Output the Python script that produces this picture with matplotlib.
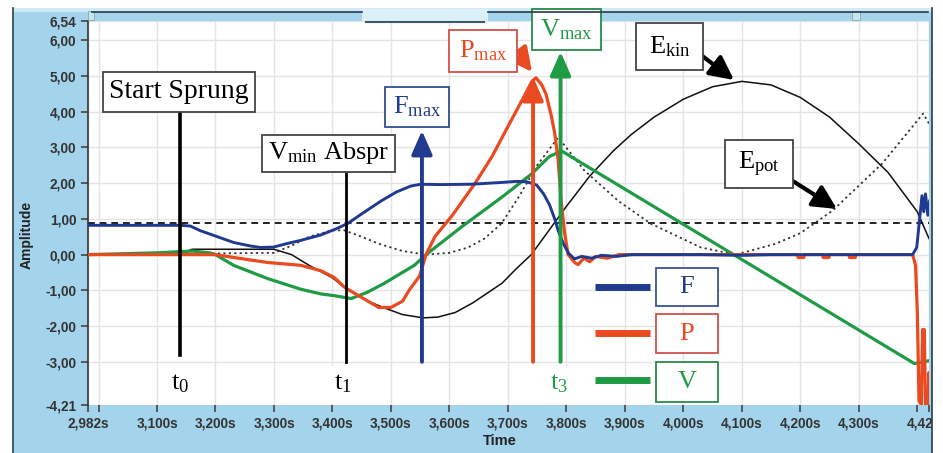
import matplotlib
matplotlib.use("Agg")
import matplotlib.pyplot as plt
from matplotlib.patches import Rectangle
from matplotlib.lines import Line2D
from matplotlib.transforms import Affine2D, ScaledTranslation

plt.rcParams['mathtext.fontset'] = 'custom'
plt.rcParams['mathtext.rm'] = 'Liberation Serif'
plt.rcParams['mathtext.it'] = 'Liberation Serif:italic'

# ---------------- data ----------------
t_F = [2.982, 3.140, 3.157, 3.174, 3.200, 3.231, 3.260, 3.277, 3.299, 3.320, 3.346, 3.380, 3.406,
       3.426, 3.449, 3.483, 3.509, 3.534, 3.551, 3.586, 3.637, 3.689, 3.714, 3.732, 3.749, 3.761,
       3.771, 3.780, 3.786, 3.795, 3.804, 3.814, 3.826, 3.843, 3.860, 3.886, 3.912, 4.032, 4.100,
       4.150, 4.203, 4.300, 4.392, 4.399, 4.404, 4.408, 4.411, 4.414, 4.418, 4.421]
F = [0.82, 0.82, 0.80, 0.67, 0.52, 0.34, 0.24, 0.20, 0.21, 0.30, 0.40, 0.55, 0.72,
     0.87, 1.13, 1.50, 1.75, 1.92, 1.97, 1.96, 1.97, 2.02, 2.05, 2.04, 1.95, 1.70,
     1.40, 1.00, 0.67, 0.30, 0.03, -0.12, -0.05, -0.10, -0.02, -0.05, 0.0, 0.0, -0.02,
     0.0, 0.0, 0.0, 0.0, 0.2, 1.0, 1.65, 1.2, 1.7, 1.1, 1.5]

t_P = [2.982, 3.200, 3.231, 3.260, 3.289, 3.346, 3.380, 3.403, 3.421, 3.450, 3.479, 3.500,
       3.520, 3.531, 3.549, 3.560, 3.575, 3.605, 3.644, 3.673, 3.694, 3.707, 3.730, 3.741,
       3.748, 3.758, 3.765, 3.774, 3.780, 3.786, 3.791, 3.797, 3.803, 3.814, 3.820, 3.830,
       3.840, 3.850, 3.870, 3.890,
       4.195, 4.196, 4.206, 4.207, 4.238, 4.239, 4.249, 4.250, 4.283, 4.284, 4.294, 4.295,
       4.392, 4.397, 4.400, 4.403, 4.407, 4.409, 4.412, 4.414, 4.418, 4.420, 4.421]
P = [0.0, 0.0, -0.08, -0.15, -0.22, -0.30, -0.45, -0.64, -0.92, -1.20, -1.48, -1.48,
     -1.30, -1.00, -0.60, 0.0, 0.50, 1.10, 2.00, 2.75, 3.40, 3.80, 4.50, 4.85,
     4.95, 4.75, 4.50, 3.90, 3.40, 2.63, 1.50, 0.60, 0.0, -0.22, -0.28, -0.10,
     -0.20, -0.05, -0.10, 0.0,
     0.0, -0.08, -0.08, 0.0, 0.0, -0.08, -0.08, 0.0, 0.0, -0.08, -0.08, 0.0,
     0.0, -0.3, -1.6, -4.1, -4.2, -2.1, -2.1, -4.2, -4.2, -3.3, -4.2]

t_V = [2.982, 3.100, 3.160, 3.190, 3.200, 3.231, 3.289, 3.346, 3.380, 3.403, 3.432, 3.460,
       3.489, 3.540, 3.560, 3.621, 3.689, 3.740, 3.771, 3.792, 4.395, 4.420]
V = [0.0, 0.05, 0.10, 0.05, 0.0, -0.30, -0.67, -0.97, -1.10, -1.15, -1.23, -1.05,
     -0.80, -0.30, 0.0, 0.78, 1.60, 2.25, 2.75, 2.90, -3.05, -2.97]

t_Ekin = [2.982, 3.140, 3.160, 3.300, 3.330, 3.360, 3.400, 3.423, 3.460, 3.490, 3.520, 3.555,
          3.580, 3.610, 3.640, 3.690, 3.714, 3.740, 3.760, 3.780, 3.800, 3.840, 3.880, 3.910,
          3.950, 4.000, 4.050, 4.100, 4.150, 4.200, 4.250, 4.300, 4.350, 4.400, 4.420]
Ekin = [0.0, 0.02, 0.15, 0.15, 0.0, -0.30, -0.65, -0.95, -1.30, -1.50, -1.68, -1.77,
        -1.75, -1.62, -1.35, -0.80, -0.40, 0.0, 0.45, 0.90, 1.35, 2.20, 2.90, 3.35,
        3.85, 4.35, 4.70, 4.85, 4.75, 4.40, 3.85, 3.10, 2.30, 1.20, 0.45]

t_Epot = [2.982, 3.300, 3.330, 3.360, 3.400, 3.420, 3.450, 3.480, 3.520, 3.560, 3.600, 3.632,
          3.660, 3.689, 3.718, 3.750, 3.786, 3.831, 3.889, 3.944, 4.030, 4.090, 4.157, 4.200,
          4.255, 4.340, 4.410, 4.420]
Epot = [0.0, 0.05, 0.25, 0.50, 0.68, 0.68, 0.50, 0.30, 0.10, 0.0, 0.05, 0.20,
        0.45, 0.87, 1.60, 2.50, 3.28, 2.35, 1.50, 0.87, 0.20, 0.0, 0.30, 0.60,
        1.23, 2.55, 3.95, 3.67]

threshold = 0.88

event_times = {"t0": 3.140, "t1": 3.423, "Fmax": 3.553, "Pmax": 3.743, "Vmax": 3.790}

y_ticks = [-4.21, -3.0, -2.0, -1.0, 0.0, 1.0, 2.0, 3.0, 4.0, 5.0, 6.0, 6.54]
y_labels = ["-4,21", "-3,00", "-2,00", "-1,00", "0,00", "1,00", "2,00", "3,00", "4,00",
            "5,00", "6,00", "6,54"]
x_ticks = [2.982, 3.0, 3.1, 3.2, 3.3, 3.4, 3.5, 3.6, 3.7, 3.8, 3.9, 4.0, 4.1, 4.2, 4.3, 4.4, 4.42]
x_labels = ["2,982s", "", "3,100s", "3,200s", "3,300s", "3,400s", "3,500s", "3,600s",
            "3,700s", "3,800s", "3,900s", "4,000s", "4,100s", "4,200s", "4,300s", "", "4,42"]

# ---------------- style ----------------
C_F = '#1f3a8f'
C_P = '#ea4a1f'
C_V = '#1f9a45'
BG = '#a4d4ec'
W, H = 943, 453

fig = plt.figure(figsize=(W / 100, H / 100), dpi=100, facecolor='white')
PX = Affine2D().scale(1 / W, -1 / H).translate(0, 1) + fig.transFigure

# background frame
fig.patches.append(Rectangle((14, 8), 918, 445, transform=PX, fc=BG, ec='none', zorder=-5))
fig.patches.append(Rectangle((14, 8), 918, 4, transform=PX, fc='#cfe9f6', ec='none', zorder=-4))
fig.lines.append(Line2D([13, 13], [8, 453], transform=PX, color='#2a3a4a', lw=1.2))
fig.lines.append(Line2D([932, 932], [8, 453], transform=PX, color='#2a3a4a', lw=1.2, zorder=20))
fig.lines.append(Line2D([92, 362], [12, 12], transform=PX, color='#2a3a4a', lw=1.2))
fig.lines.append(Line2D([488, 928], [12, 12], transform=PX, color='#2a3a4a', lw=1.2))
fig.patches.append(Rectangle((362, 9), 126, 13, transform=PX, fc='#dcf0f8', ec='none', zorder=-3))
fig.lines.append(Line2D([366, 484], [22, 22], transform=PX, color='#3a5a6a', lw=1.5))
fig.patches.append(Rectangle((852, 11), 8, 9, transform=PX, fc='#c8e4f0', ec='#8aa', lw=0.6))
fig.patches.append(Rectangle((88, 11), 6, 9, transform=PX, fc='#c8e4f0', ec='#8aa', lw=0.6))
fig.patches.append(Rectangle((933, 0), 10, 453, transform=PX, fc='white', ec='none', zorder=30))

ax = fig.add_axes([88 / W, 1 - 405 / H, (929 - 88) / W, (405 - 21) / H])
ax.set_facecolor('white')
ax.set_xlim(2.982, 4.42)
ax.set_ylim(-4.21, 6.54)
for s in ['top', 'right', 'bottom']:
    ax.spines[s].set_visible(False)
ax.spines['left'].set_color('#333333')
ax.spines['left'].set_linewidth(1.2)
ax.set_yticks(y_ticks)
ax.set_yticklabels(y_labels)
ax.set_xticks(x_ticks)
ax.set_xticklabels(x_labels)
ax.tick_params(axis='both', direction='out', length=5, width=1.2, color='#444444',
               labelcolor='#333333', labelsize=9.8)
for lab in ax.get_xticklabels() + ax.get_yticklabels():
    lab.set_fontweight('bold')
    lab.set_fontfamily('Liberation Sans')
last = ax.get_xticklabels()[-1]
last.set_transform(last.get_transform() + ScaledTranslation(-9 / 100, 0, fig.dpi_scale_trans))
ax.grid(True, color='#e4e4e4', lw=1.0)
ax.set_axisbelow(True)

fig.text(27 / W, 1 - 235 / H, "Amplitude", rotation=90, ha='center', va='center',
         fontsize=10, fontweight='bold', family='Liberation Sans', color='#222222')
fig.text(500 / W, 1 - 441 / H, "Time", ha='center', va='center',
         fontsize=10.5, fontweight='bold', family='Liberation Sans', color='#222222')

# curves
ax.axhline(threshold, color='#222222', lw=1.4, ls=(0, (3.5, 2.5)), zorder=2)
ax.plot(t_Epot, Epot, color='#333333', lw=1.3, ls=(0, (1.2, 1.8)), zorder=2)
ax.plot(t_Ekin, Ekin, color='#111111', lw=1.1, zorder=2)
ax.plot(t_V, V, color=C_V, lw=2.3, zorder=3)
ax.plot(t_P, P, color=C_P, lw=2.3, zorder=4)
ax.plot(t_F, F, color=C_F, lw=2.1, zorder=5)

# event markers
ax.plot([event_times["t0"]] * 2, [-2.8, 3.98], color='black', lw=2.6, zorder=6)
ax.plot([event_times["t1"]] * 2, [-3.0, 2.3], color='black', lw=2.0, zorder=6)


def varrow(x, y0, y1, c, lw):
    ax.annotate('', xy=(x, y1), xytext=(x, y0),
                arrowprops=dict(arrowstyle='-|>,head_length=0.8,head_width=0.35', color=c, lw=lw,
                                shrinkA=0, shrinkB=0, mutation_scale=18), zorder=6,
                annotation_clip=False)


varrow(event_times["Fmax"], -3.0, 3.47, C_F, 2.8)
varrow(event_times["Pmax"], -3.0, 4.98, C_P, 2.8)
varrow(event_times["Vmax"], -3.0, 5.68, C_V, 2.8)


def pxarrow(x0, y0, x1, y1, c):
    ax.annotate('', xy=(x1, y1), xycoords=PX, xytext=(x0, y0), textcoords=PX,
                arrowprops=dict(arrowstyle='-|>,head_length=0.8,head_width=0.4', color=c, lw=3.0,
                                shrinkA=0, shrinkB=0, mutation_scale=18), zorder=8,
                annotation_clip=False)


pxarrow(510, 43, 532, 72, C_P)
pxarrow(697, 52, 734, 80, 'black')
pxarrow(788, 178, 837, 209, 'black')

SERIF = 'Liberation Serif'


def box(x0, y0, x1, y1, text, c, ec=None, fs=20, dy=0):
    ax.add_patch(Rectangle((x0, y0), x1 - x0, y1 - y0, transform=PX, fc='white',
                           ec=ec or c, lw=1.3, zorder=9, clip_on=False))
    ax.text((x0 + x1) / 2, (y0 + y1) / 2 + dy, text, transform=PX, ha='center', va='center',
            color=c, fontsize=fs, family=SERIF, zorder=10, clip_on=False)


box(103, 72, 255, 112, "Start Sprung", 'black', '#444444')
box(262, 135, 395, 172, r"V$_{\mathrm{min}}$ Abspr", 'black', '#444444', fs=19)
box(385, 87, 449, 127, r"F$_{\mathrm{max}}$", C_F, '#2f4f8f', fs=19)
box(449, 30, 517, 72, r"P$_{\mathrm{max}}$", C_P, '#d0504a', fs=19)
box(532, 9, 601, 50, r"V$_{\mathrm{max}}$", C_V, '#2a8a4a', fs=19)
box(636, 23, 703, 70, r"E$_{\mathrm{kin}}$", 'black', '#444444', fs=19)
box(725, 140, 793, 188, r"E$_{\mathrm{pot}}$", 'black', '#444444', fs=19)

# legend
for (y, c, name, ec, yb0, yb1) in [(287, C_F, "F", '#3a5590', 268, 306),
                                    (333, C_P, "P", '#d0504a', 314, 353),
                                    (380, C_V, "V", '#2a8a4a', 362, 402)]:
    ax.add_line(Line2D([595, 650], [y, y], transform=PX, color=c, lw=5, zorder=9,
                       solid_capstyle='butt'))
    box(656, yb0, 718, yb1, name, c, ec, fs=19)

# t labels
for (x, txt, c) in [(180, r"t$_0$", 'black'), (343, r"t$_1$", 'black'), (559, r"t$_3$", C_V)]:
    ax.add_patch(Rectangle((x - 15, 366), 30, 38, transform=PX, fc='white', ec='none', zorder=9,
                           clip_on=False))
    ax.text(x, 384, txt, transform=PX, ha='center', va='center', fontsize=19, color=c,
            family=SERIF, zorder=10)

fig.savefig("out.png", dpi=100, facecolor='white')
